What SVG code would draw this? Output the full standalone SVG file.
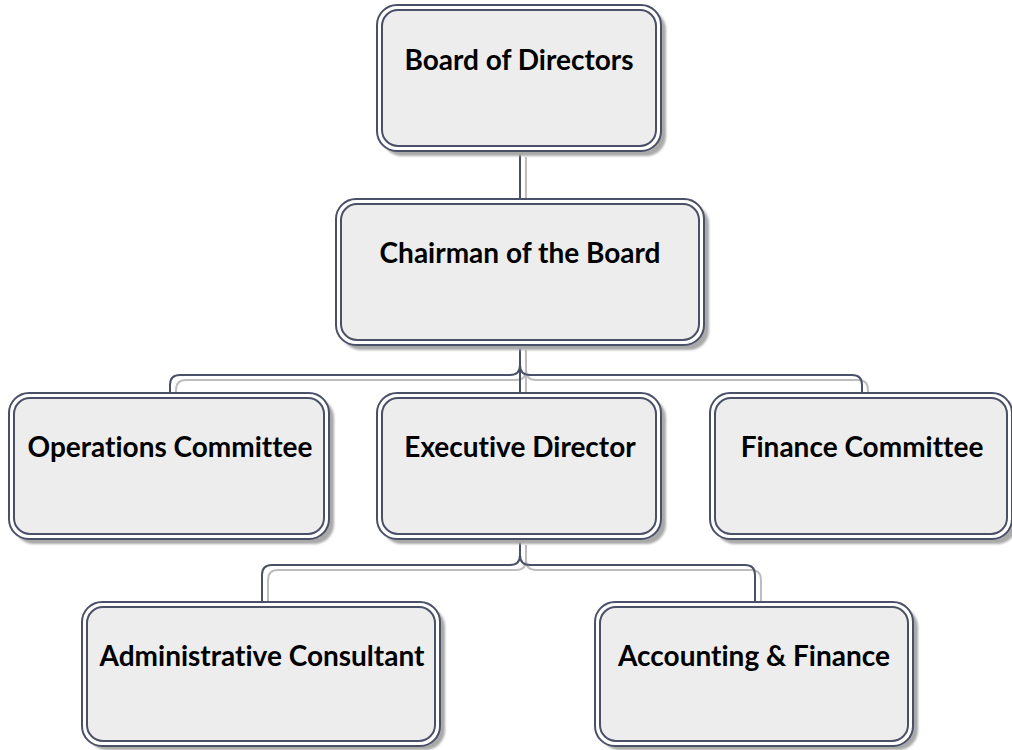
<svg xmlns="http://www.w3.org/2000/svg" width="1012" height="750" viewBox="0 0 1012 750">
  <defs>
    <filter id="soft" x="-5%" y="-5%" width="115%" height="115%">
      <feGaussianBlur stdDeviation="1"/>
    </filter>
  </defs>
  <style>
    .shadow { fill: #a9a9a9; filter: url(#soft); }
    .outer { fill: #ffffff; stroke: #4a5068; stroke-width: 2; }
    .inner { fill: #ededed; stroke: #4a5068; stroke-width: 2; }
    .label { font-family: Lato, "Open Sans", "Liberation Sans", sans-serif; font-weight: bold; font-size: 28px; fill: #000; text-anchor: middle; font-variant-ligatures: none; }
    .wire { fill: none; stroke: #4a5068; stroke-width: 2; }
    .wire-shadow { fill: none; stroke: #bdbdbd; stroke-width: 2; }
  </style>

  <rect width="1012" height="750" fill="#ffffff"/>

  <!-- connectors -->
  <g id="connectors">
    <g transform="translate(6,5)">
      <path class="wire-shadow" d="M520,152 V199"/>
      <path class="wire-shadow" d="M520,345 V365 Q520,375 510,375 H180 Q170,375 170,385 V393"/>
      <path class="wire-shadow" d="M520,345 V393"/>
      <path class="wire-shadow" d="M520,345 V365 Q520,375 530,375 H852 Q862,375 862,385 V393"/>
      <path class="wire-shadow" d="M520,540 V555 Q520,565 510,565 H272 Q262,565 262,575 V602"/>
      <path class="wire-shadow" d="M520,540 V555 Q520,565 530,565 H745 Q755,565 755,575 V602"/>
    </g>
    <path class="wire" d="M520,152 V199"/>
    <path class="wire" d="M520,345 V365 Q520,375 510,375 H180 Q170,375 170,385 V393"/>
    <path class="wire" d="M520,345 V393"/>
    <path class="wire" d="M520,345 V365 Q520,375 530,375 H852 Q862,375 862,385 V393"/>
    <path class="wire" d="M520,540 V555 Q520,565 510,565 H272 Q262,565 262,575 V602"/>
    <path class="wire" d="M520,540 V555 Q520,565 530,565 H745 Q755,565 755,575 V602"/>
  </g>

  <!-- Board of Directors -->
  <g id="board">
    <rect class="shadow" x="382" y="10" width="284" height="146" rx="20"/>
    <rect class="outer" x="377" y="5" width="284" height="146" rx="20"/>
    <rect class="inner" x="382" y="10" width="274" height="136" rx="16"/>
    <text class="label" x="519" y="70">Board of Directors</text>
  </g>

  <!-- Chairman of the Board -->
  <g id="chairman">
    <rect class="shadow" x="341" y="204" width="368" height="146" rx="20"/>
    <rect class="outer" x="336" y="199" width="368" height="146" rx="20"/>
    <rect class="inner" x="341" y="204" width="358" height="136" rx="16"/>
    <text class="label" x="520" y="263">Chairman of the Board</text>
  </g>

  <!-- Operations Committee -->
  <g id="operations">
    <rect class="shadow" x="14" y="398" width="320" height="146" rx="20"/>
    <rect class="outer" x="9" y="393" width="320" height="146" rx="20"/>
    <rect class="inner" x="14" y="398" width="310" height="136" rx="16"/>
    <text class="label" x="170" y="457">Operations Committee</text>
  </g>

  <!-- Executive Director -->
  <g id="executive">
    <rect class="shadow" x="382" y="398" width="284" height="146" rx="20"/>
    <rect class="outer" x="377" y="393" width="284" height="146" rx="20"/>
    <rect class="inner" x="382" y="398" width="274" height="136" rx="16"/>
    <text class="label" x="520" y="457">Executive Director</text>
  </g>

  <!-- Finance Committee -->
  <g id="finance">
    <rect class="shadow" x="715" y="398" width="302" height="146" rx="20"/>
    <rect class="outer" x="710" y="393" width="302" height="146" rx="20"/>
    <rect class="inner" x="715" y="398" width="292" height="136" rx="16"/>
    <text class="label" x="862" y="457">Finance Committee</text>
  </g>

  <!-- Administrative Consultant -->
  <g id="admin">
    <rect class="shadow" x="87" y="607" width="358" height="143" rx="20"/>
    <rect class="outer" x="82" y="602" width="358" height="144" rx="20"/>
    <rect class="inner" x="87" y="607" width="348" height="134" rx="16"/>
    <text class="label" x="262" y="666">Administrative Consultant</text>
  </g>

  <!-- Accounting & Finance -->
  <g id="accounting">
    <rect class="shadow" x="600" y="607" width="318" height="143" rx="20"/>
    <rect class="outer" x="595" y="602" width="318" height="144" rx="20"/>
    <rect class="inner" x="600" y="607" width="308" height="134" rx="16"/>
    <text class="label" x="754" y="666">Accounting &amp; Finance</text>
  </g>
</svg>
